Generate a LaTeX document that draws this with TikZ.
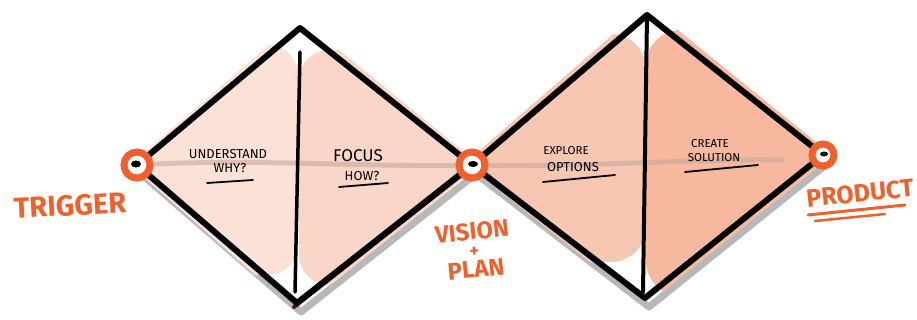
\documentclass[tikz,border=0pt]{standalone}
\usepackage{fontspec}
\newfontfamily\hand{Fira Sans}
\definecolor{orng}{HTML}{F0602C}
\definecolor{fillA}{HTML}{FCE1D7}
\definecolor{fillB}{HTML}{FAD6C8}
\definecolor{fillC}{HTML}{F8C7B3}
\definecolor{fillD}{HTML}{F6B89E}
\definecolor{midgrey}{HTML}{C9A79C}
\definecolor{brownedge}{HTML}{4A1A10}
\begin{document}
\begin{tikzpicture}[x=1pt,y=-1pt,
  edge/.style={line width=6pt,line cap=round,line join=round,black},
  divider/.style={line width=3.5pt,line cap=round,black},
  shadowline/.style={line width=7pt,line cap=round,line join=round,black!28},
  midline/.style={line width=5pt,line cap=round,midgrey,opacity=0.6},
  ring/.style={circle,draw=orng,line width=7pt,fill=white,inner sep=0pt,minimum size=#1},
  lbl/.style={font=\hand\fontsize{13}{14}\selectfont,inner sep=0pt},
  olbl/.style={font=\hand\bfseries\fontsize{24}{24}\selectfont,text=orng,inner sep=0pt,text depth=0pt},
  uline/.style={line width=1.8pt,line cap=round,black}]
\useasboundingbox (0,0) rectangle (917,320);
% vertices
\coordinate (L) at (137,165);
\coordinate (T1) at (300,28);
\coordinate (B1) at (297,303);
\coordinate (V) at (472,165);
\coordinate (T2) at (647,15);
\coordinate (B2) at (645,298);
\coordinate (P) at (823,155);
% shadows
\draw[shadowline] ([shift={(4,9)}]L) -- ([shift={(4,9)}]B1) -- ([shift={(4,9)}]V)
  -- ([shift={(4,9)}]B2) -- ([shift={(4,9)}]P);
% fills
\begin{scope}
\clip (130,165) -- (300,18) -- (297,312) -- cycle;
\fill[fillA, rounded corners=30pt] (138,45) rectangle (298,275);
\end{scope}
\begin{scope}
\clip (300,18) -- (480,165) -- (297,312) -- cycle;
\fill[fillB, rounded corners=30pt] (299,50) rectangle (475,285);
\end{scope}
\begin{scope}
\clip (465,163) -- (647,5) -- (645,306) -- cycle;
\fill[fillC, rounded corners=35pt] (478,34) rectangle (646,262);
\end{scope}
\begin{scope}
\clip (647,5) -- (832,155) -- (645,306) -- cycle;
\fill[fillD, rounded corners=35pt] (646,30) rectangle (830,296);
\end{scope}
% midlines
\draw[midline] (L) .. controls (250,158) and (380,168) .. (V);
\draw[midline] (V) .. controls (580,168) and (700,158) .. (783,160);
% brown under-strokes
\draw[line width=4pt,line cap=round,brownedge] ([shift={(-3,4)}]V) -- ([shift={(-3,4)}]T2);
\draw[line width=4pt,line cap=round,brownedge] ([shift={(-3,4)}]B1) -- ([shift={(-3,4)}]V);
% outlines
\draw[edge] (L) -- (T1) -- (V) -- (B1) -- cycle;
\draw[edge] (V) -- (T2) -- (P) -- (B2) -- cycle;
% dividers
\draw[divider] (300,52) -- (295,292);
\draw[divider,line width=4pt] (T2) -- (643,292);
% rings
\node[ring=26pt] (trigger) at (L) {};
\node[ring=26pt] (vision) at (V) {};
\node[ring=22pt] (product) at (P) {};
\fill[black] ([shift={(-1,-1)}]trigger.center) ellipse (5pt and 3.5pt);
\fill[black] ([shift={(1,-1)}]vision.center) ellipse (5pt and 3pt);
\fill[black] ([shift={(1,-1)}]product.center) ellipse (4pt and 2.5pt);
% black labels
\node[lbl] (und) at (228,154) {UNDERSTAND};
\node[lbl] (why) at (230,168) {WHY?};
\draw[uline] (207,183) -- (253,180);
\node[lbl,font=\hand\fontsize{17}{18}\selectfont] (focus) at (358,156) {FOCUS};
\node[lbl] (how) at (362,176) {HOW?};
\draw[uline] (339,187) -- (388,183);
\node[lbl,font=\hand\fontsize{11.5}{12}\selectfont] (expl) at (566,151) {EXPLORE};
\node[lbl] (opt) at (573,167) {OPTIONS};
\draw[uline] (543,182) -- (615,175);
\node[lbl,font=\hand\fontsize{11.5}{12}\selectfont] (create) at (710,144) {CREATE};
\node[lbl,font=\hand\fontsize{11.5}{12}\selectfont] (sol) at (714,158) {SOLUTION};
\draw[uline] (685,172) -- (758,165);
% orange labels
\node[olbl,font=\hand\bfseries\fontsize{29}{29}\selectfont,rotate=3] (trig) at (70,205) {TRIGGER};
\node[olbl,align=center,rotate=6,font=\hand\bfseries\fontsize{24}{22}\selectfont] (visplan) at (474,250)
  {VISION\\[-4pt]{\fontsize{18}{18}\selectfont +}\\[-2pt]PLAN};
\node[olbl,font=\hand\bfseries\fontsize{25}{25}\selectfont,rotate=6] (prod) at (860,193) {PRODUCT};
\draw[orng,line width=3pt,line cap=round] (808,215) -- (905,205);
\draw[orng,line width=2.5pt,line cap=round] (815,221) -- (885,214);
\end{tikzpicture}
\end{document}
